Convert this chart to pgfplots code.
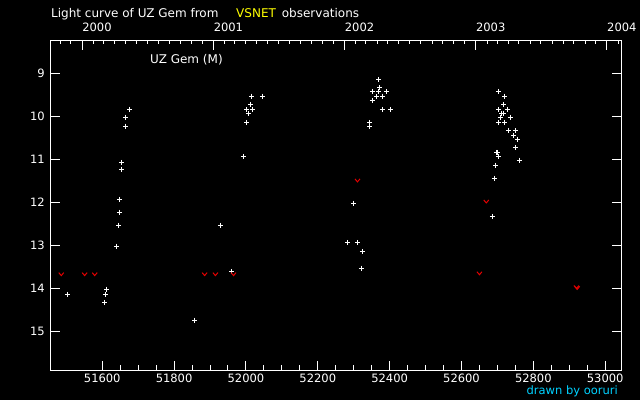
\documentclass[border=0pt]{standalone}
\usepackage{fontspec}
\setmainfont{DejaVu Sans}
\usepackage{pgfplots}
\pgfplotsset{compat=1.18}
\definecolor{vsyellow}{RGB}{255,255,0}
\definecolor{oocyan}{RGB}{0,210,255}
\definecolor{limred}{RGB}{230,0,0}
\pgfdeclareplotmark{vlim}{%
  \pgfpathmoveto{\pgfqpoint{-2.5bp}{1.5bp}}%
  \pgfpathlineto{\pgfqpoint{0bp}{-1.5bp}}%
  \pgfpathlineto{\pgfqpoint{2.5bp}{1.5bp}}%
  \pgfusepathqstroke}
\newcommand{\tlfont}{\fontsize{11.5bp}{13bp}\selectfont}
\newcommand{\ttfontb}{\fontsize{12bp}{14bp}\selectfont}
\begin{document}
\begin{tikzpicture}
\fill[black] (0,0) rectangle (640bp,400bp);
\begin{axis}[
  at={(50.5bp,30bp)}, anchor=south west, scale only axis,
  width=570.5bp, height=329.5bp,
  xmin=51456, xmax=53044, ymin=8.237, ymax=15.9, y dir=reverse,
  axis line style={white, line width=1bp},
  every tick/.style={white, line width=1bp},
  tick align=inside, major tick length=9.5bp, minor tick length=5bp,
  xtick={51600,51800,...,53000}, minor x tick num=3,
  ytick={9,...,15},
  xtick pos=left, xticklabel pos=left,
  ytick pos=both, yticklabel pos=left,
  scaled x ticks=false,
  /pgf/number format/.cd, 1000 sep={}, assume math mode=true, /pgfplots/.cd,
  xticklabel style={anchor=north, inner sep=0pt, yshift=-4bp, font=\tlfont, text=white},
  yticklabel style={anchor=east, inner sep=0pt, xshift=-5.5bp, font=\tlfont, text=white},
]
\addplot[only marks, mark=+, mark size=2.5bp, white, line width=1bp] table {
x y
51504 14.14
51606.5 14.33
51609 14.14
51612 14.02
51640 13.02
51645.5 12.53
51648 12.23
51648 11.93
51654 11.23
51654 11.07
51665 10.23
51665 10.02
51676 9.84
51857 14.74
51929 12.53
51960 13.62
51993 10.93
52001.6 10.14
52001.6 9.84
52007 9.93
52013 9.72
52015.5 9.53
52018 9.84
52046 9.53
52283 12.93
52299 12.02
52311 12.93
52321.6 13.53
52324 13.14
52344 10.14
52344 10.23
52352 9.42
52352 9.63
52363.5 9.53
52369 9.14
52369 9.42
52372 9.33
52380 9.53
52380 9.84
52391 9.42
52402 9.84
52686 12.33
52692 11.44
52695 11.14
52698.5 10.84
52701 10.84
52703 10.93
52703 9.42
52703 9.84
52703 10.14
52708 10.02
52711 9.93
52717 9.93
52717 9.72
52720 9.53
52720 10.14
52728 9.84
52731 10.33
52736 10.02
52745 10.44
52750 10.33
52750 10.72
52756 10.53
52761 11.02
};
\addplot[only marks, mark=vlim, limred, line width=1bp] table {
x y
51486 13.67
51551 13.67
51579 13.67
51885 13.67
51915 13.67
51965.5 13.67
52310.5 11.49
52650 13.65
52669 11.98
52920 13.97
52922 13.99
};
\end{axis}
\begin{axis}[
  at={(50.5bp,30bp)}, anchor=south west, scale only axis,
  width=570.5bp, height=329.5bp,
  xmin=51456, xmax=53044, ymin=0, ymax=1,
  axis x line*=top, axis y line=none,
  axis line style={white, line width=1bp, -},
  scaled x ticks=false,
  xtick={51544,51910,52275,52640,53005},
  xticklabels={2000,2001,2002,2003,2004},
  minor xtick={51483,51513,51575,51604,51635,51665,51696,51726,51757,51788,51818,51849,51879,51941,51969,52000,52030,52061,52091,52122,52153,52183,52214,52244,52306,52334,52365,52395,52426,52456,52487,52518,52548,52579,52609,52671,52699,52730,52760,52791,52821,52852,52883,52913,52944,52974,53036},
  xtick align=inside, major tick length=10bp, minor tick length=3.5bp,
  every tick/.style={white, line width=1bp},
  xticklabel style={anchor=base west, inner sep=0pt, yshift=8.5bp, font=\tlfont, text=white},
]
\addplot[draw=none, forget plot] coordinates {(51500,0.5) (51600,0.5)};
\end{axis}
\node[anchor=base west, inner sep=0pt, text=white, font=\ttfontb] at (51bp,382bp) {Light curve of UZ Gem from};
\node[anchor=base west, inner sep=0pt, text=vsyellow, font=\ttfontb] at (236bp,382bp) {VSNET};
\node[anchor=base west, inner sep=0pt, text=white, font=\ttfontb] at (281.7bp,382bp) {observations};
\node[anchor=base west, inner sep=0pt, text=white, font=\ttfontb] at (150bp,336.5bp) {UZ Gem (M)};
\node[anchor=base east, inner sep=0pt, text=oocyan, font=\tlfont] at (618bp,5.3bp) {drawn by ooruri};
\pgfresetboundingbox
\path (0,0) rectangle (640bp,400bp);
\end{tikzpicture}
\end{document}
